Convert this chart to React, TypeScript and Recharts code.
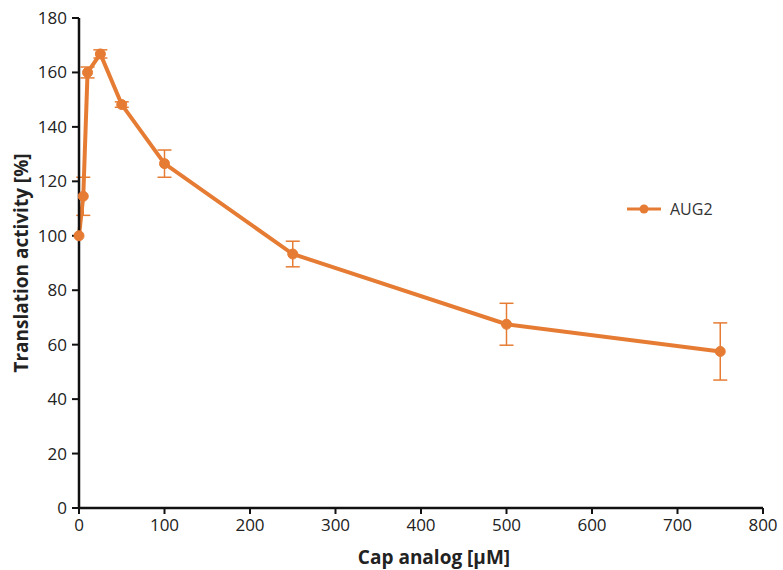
import { LineChart, Line, XAxis, YAxis, ErrorBar } from 'recharts'

const concentrations = [0, 5, 10, 25, 50, 100, 250, 500, 750]
const activity = [100, 114.5, 160, 166.8, 148.2, 126.5, 93.3, 67.5, 57.5]
const activityErr = [0, 7, 2, 1.5, 1, 5, 4.7, 7.7, 10.5]
const xTicks = [0, 100, 200, 300, 400, 500, 600, 700, 800]
const yTicks = [0, 20, 40, 60, 80, 100, 120, 140, 160, 180]

const ORANGE = '#E67C34'
const FONT = "'Open Sans', sans-serif"

const data = concentrations.map((c, i) => ({ c, v: activity[i], err: activityErr[i] }))

function LegendBox() {
  return (
    <div style={{ display: 'flex', alignItems: 'center', fontFamily: FONT, fontSize: 16, color: '#333' }}>
      <svg width={34} height={12} style={{ marginRight: 9 }}>
        <line x1={0} y1={6} x2={34} y2={6} stroke={ORANGE} strokeWidth={3} />
        <circle cx={17} cy={6} r={4.5} fill={ORANGE} />
      </svg>
      AUG2
    </div>
  )
}

export default function App() {
  return (
    <div style={{ position: 'absolute', left: 0, top: 0, width: 783, height: 570, background: '#fff' }}>
      <LineChart width={783} height={570} data={data} margin={{ top: 18, right: 20, bottom: 0, left: 0 }}>
        <XAxis
          dataKey="c"
          type="number"
          domain={[0, 800]}
          ticks={xTicks}
          height={62}
          axisLine={{ stroke: '#111', strokeWidth: 2.5 }}
          tickLine={{ stroke: '#111', strokeWidth: 2 }}
          tickSize={6}
          tickMargin={5}
          tick={{ fill: '#222', fontSize: 17, fontFamily: FONT }}
          label={{ value: 'Cap analog [μM]', position: 'insideBottom', offset: 6, dx: 13, fill: '#222', fontSize: 19, fontWeight: 'bold', fontFamily: FONT }}
        />
        <YAxis
          type="number"
          domain={[0, 180]}
          ticks={yTicks}
          width={79}
          axisLine={{ stroke: '#111', strokeWidth: 2.5 }}
          tickLine={{ stroke: '#111', strokeWidth: 2 }}
          tickSize={7}
          tickMargin={5}
          tick={{ fill: '#222', fontSize: 17, fontFamily: FONT }}
          label={{ value: 'Translation activity [%]', angle: -90, position: 'insideLeft', offset: 21, style: { textAnchor: 'middle' }, fill: '#222', fontSize: 19, fontWeight: 'bold', fontFamily: FONT }}
        />
        <Line
          type="linear"
          dataKey="v"
          name="AUG2"
          stroke={ORANGE}
          strokeWidth={4}
          dot={{ r: 5, fill: ORANGE, stroke: ORANGE, strokeWidth: 1 }}
          activeDot={false}
          isAnimationActive={false}
        >
          <ErrorBar dataKey="err" direction="y" width={7} stroke={ORANGE} strokeWidth={1.5} />
        </Line>
      </LineChart>
      <div style={{ position: 'absolute', left: 627, top: 198 }}>
        <LegendBox />
      </div>
    </div>
  )
}
